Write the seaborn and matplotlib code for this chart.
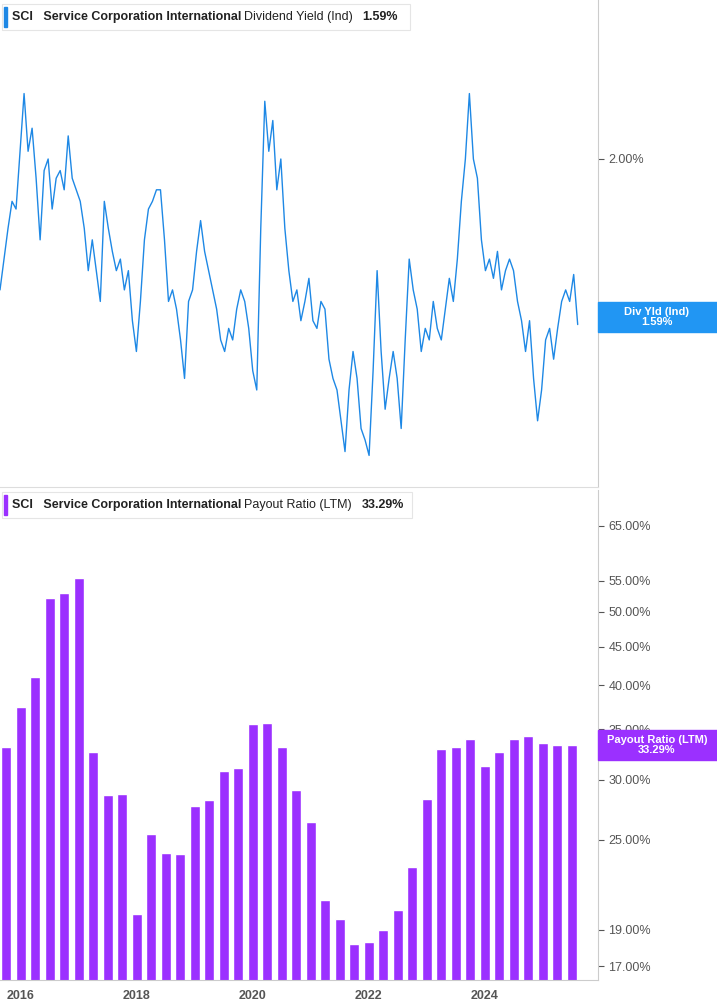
import numpy as np
import pandas as pd
import matplotlib
matplotlib.use("Agg")
import matplotlib.pyplot as plt
import seaborn as sns
from matplotlib.ticker import FixedLocator, NullLocator

# Dividend yield (%), sampled roughly every 25 days from Aug 2015 to mid 2025
div_yield = [1.66, 1.74, 1.82, 1.89, 1.87, 2.02, 2.17, 2.02, 2.08, 1.95, 1.79, 1.97, 2.00, 1.87, 1.95,
             1.97, 1.92, 2.06, 1.95, 1.92, 1.89, 1.82, 1.71, 1.79, 1.71, 1.63, 1.89, 1.82, 1.76, 1.71,
             1.74, 1.66, 1.71, 1.58, 1.50, 1.63, 1.79, 1.87, 1.89, 1.92, 1.92, 1.79, 1.63, 1.66, 1.61,
             1.53, 1.43, 1.63, 1.66, 1.76, 1.84, 1.76, 1.71, 1.66, 1.61, 1.53, 1.50, 1.56, 1.53, 1.61,
             1.66, 1.63, 1.56, 1.45, 1.40, 1.82, 2.15, 2.02, 2.10, 1.92, 2.00, 1.82, 1.71, 1.63, 1.66,
             1.58, 1.63, 1.69, 1.58, 1.56, 1.63, 1.61, 1.48, 1.43, 1.40, 1.32, 1.24, 1.40, 1.50, 1.43,
             1.30, 1.27, 1.23, 1.45, 1.71, 1.50, 1.35, 1.43, 1.50, 1.43, 1.30, 1.53, 1.74, 1.66, 1.61,
             1.50, 1.56, 1.53, 1.63, 1.56, 1.53, 1.61, 1.69, 1.63, 1.74, 1.89, 2.00, 2.17, 2.00, 1.95,
             1.79, 1.71, 1.74, 1.69, 1.76, 1.66, 1.71, 1.74, 1.71, 1.63, 1.58, 1.50, 1.58, 1.43, 1.32,
             1.40, 1.53, 1.56, 1.48, 1.56, 1.63, 1.66, 1.63, 1.70, 1.57]

# Payout ratio (LTM, %), quarterly 2015Q4 .. 2025Q2
payout = [33.1, 37.4, 41.0, 52.2, 53.0, 55.4, 32.6, 28.6, 28.7, 19.9,
          25.4, 24.0, 23.9, 27.7, 28.2, 30.8, 31.1, 35.5, 35.7, 33.1,
          29.1, 26.4, 20.8, 19.6, 18.2, 18.3, 19.0, 20.2, 23.0, 28.3,
          32.9, 33.1, 34.0, 31.3, 32.6, 34.0, 34.3, 33.5, 33.3, 33.3]

payout_ticks = [17, 19, 25, 30, 35, 40, 45, 50, 55, 65]
year_ticks = [2016, 2018, 2020, 2022, 2024]

blue = "#1e88e5"
purple = "#9b30ff"
font = "Liberation Sans"

line_x = np.linspace(2015.64, 2025.6, len(div_yield))
bar_x = 2015.75 + 0.25 * np.arange(len(payout))
xmin, xmax = 2015.64, 2025.95

sns.set_style("white")
plt.rcParams["font.family"] = font
fig = plt.figure(figsize=(7.17, 10.05), dpi=100)
W, H = 717, 1005
ax1 = fig.add_axes([0, 1 - 487 / H, 598 / W, 487 / H])
ax2 = fig.add_axes([0, 1 - 980 / H, 598 / W, 490 / H])

# top panel
sns.lineplot(x=line_x, y=div_yield, ax=ax1, color=blue, linewidth=1)
ax1.set_xlim(xmin, xmax)
ax1.set_ylim(1.148, 2.413)
ax1.yaxis.tick_right()
ax1.set_yticks([2.0])
ax1.set_yticklabels(["2.00%"])
ax1.set_xticks([])
ax1.tick_params(axis="y", length=4, colors="#555555", labelsize=9)
for s in ["top", "left"]:
    ax1.spines[s].set_visible(False)
ax1.spines["right"].set_color("#cccccc")
ax1.spines["bottom"].set_color("#dddddd")

# bottom panel
df = pd.DataFrame({"x": bar_x, "payout": payout})
sns.barplot(data=df, x="x", y="payout", ax=ax2, color=purple, native_scale=True,
            width=0.7, saturation=1)
ax2.set_yscale("log")
ax2.set_ylim(16.3, 72.5)
ax2.set_xlim(xmin, xmax)
ax2.yaxis.tick_right()
ax2.yaxis.set_major_locator(FixedLocator(payout_ticks))
ax2.yaxis.set_minor_locator(NullLocator())
ax2.set_yticklabels([f"{t:.2f}%" for t in payout_ticks])
ax2.set_xticks(year_ticks)
ax2.set_xticklabels([str(y) for y in year_ticks])
ax2.tick_params(axis="both", length=4, colors="#555555", labelsize=9)
ax2.set_xlabel("")
ax2.set_ylabel("")
for s in ["top", "left"]:
    ax2.spines[s].set_visible(False)
ax2.spines["right"].set_color("#cccccc")
ax2.spines["bottom"].set_color("#cccccc")
for lab in ax2.get_xticklabels():
    lab.set_fontweight("bold")

# header boxes
def header(y, color, label, value, right):
    fig.patches.append(plt.Rectangle((2 / W, 1 - (y + 13) / H), (right - 2) / W, 26 / H,
                                     transform=fig.transFigure, facecolor="white",
                                     edgecolor="#e5e5e5", lw=0.8, zorder=5))
    fig.patches.append(plt.Rectangle((4 / W, 1 - (y + 10) / H), 3 / W, 20 / H,
                                     transform=fig.transFigure, color=color, zorder=6))
    fig.text(12 / W, 1 - y / H, "SCI   Service Corporation International", fontsize=9,
             fontweight="bold", color="#222222", va="center", zorder=7)
    fig.text(244 / W, 1 - y / H, label, fontsize=9, color="#222222", va="center", zorder=7)
    fig.text(value[1] / W, 1 - y / H, value[0], fontsize=9, fontweight="bold",
             color="#222222", va="center", zorder=7)

header(17, blue, "Dividend Yield (Ind)", ("1.59%", 362), 410)
header(505, purple, "Payout Ratio (LTM)", ("33.29%", 362), 412)

# right value tags
def tag(y, color, text):
    fig.patches.append(plt.Rectangle((598 / W, 1 - (y + 15) / H), 119 / W, 30 / H,
                                     transform=fig.transFigure, color=color))
    fig.text(657 / W, 1 - y / H, text, fontsize=8, fontweight="bold", color="white",
             ha="center", va="center", linespacing=1.1)

tag(317, "#2196f3", "Div Yld (Ind)\n1.59%")
tag(745, purple, "Payout Ratio (LTM)\n33.29%")

fig.savefig("out.png", dpi=100)
